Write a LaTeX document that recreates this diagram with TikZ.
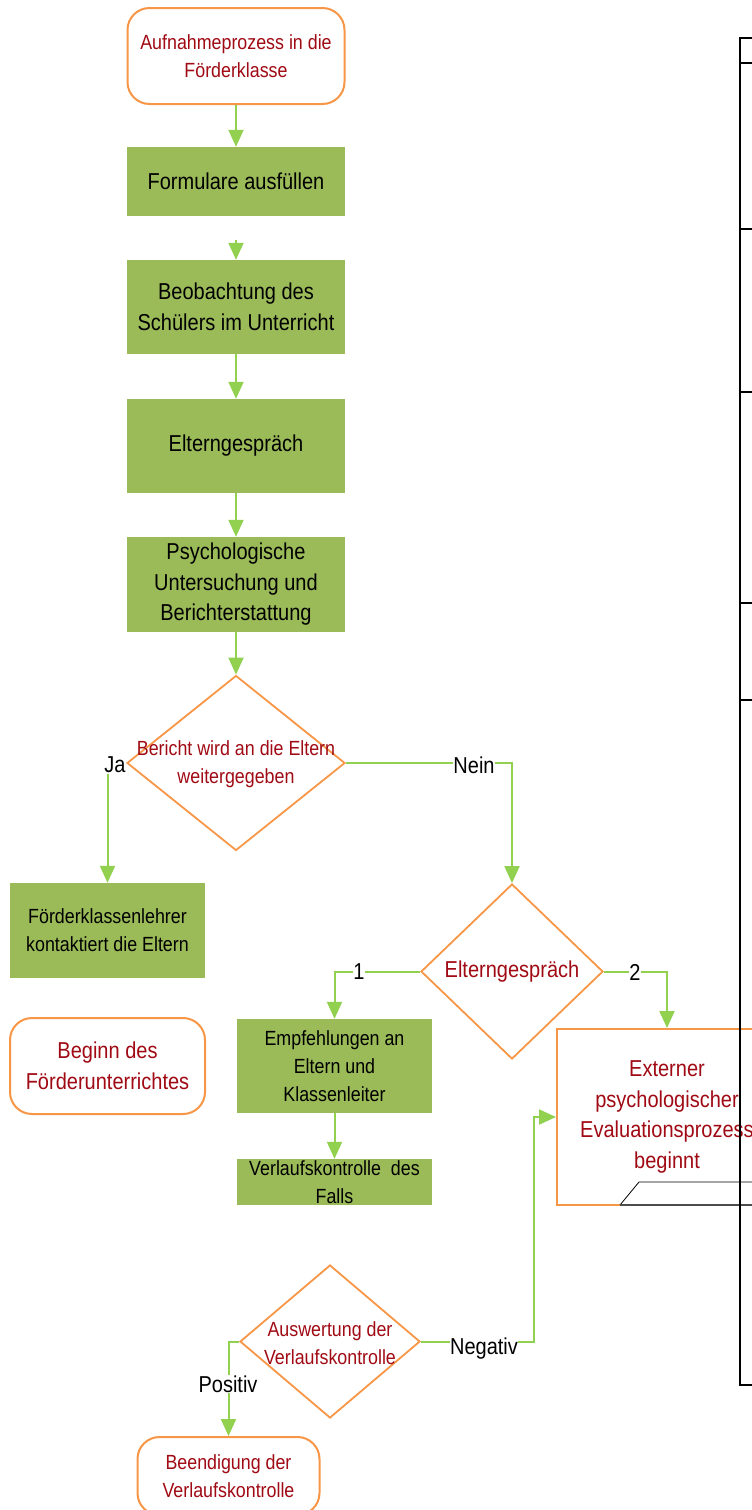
\documentclass[tikz,border=0pt]{standalone}
\usepackage{fontspec}
\usetikzlibrary{shapes.geometric,arrows.meta,calc}
\newfontfamily\dfont[FakeStretch=0.87]{Liberation Sans}
\newcommand\fbig{\dfont\fontsize{23}{30.5}\selectfont}
\newcommand\fsmall{\dfont\fontsize{20.5}{28}\selectfont}
\definecolor{gfill}{RGB}{155,187,89}
\definecolor{gline}{RGB}{146,208,80}
\definecolor{obord}{RGB}{247,150,70}
\definecolor{dred}{RGB}{160,10,20}
\begin{document}
\begin{tikzpicture}[x=1pt,y=-1pt,
  gbox/.style={fill=gfill, inner sep=0pt, align=center, text=black},
  obox/.style={draw=obord, line width=2pt, fill=white, rounded corners=22pt, inner sep=0pt, align=center, text=dred},
  dia/.style={diamond, draw=obord, line width=1.8pt, inner sep=0pt},
  dtext/.style={align=center, text=dred, inner sep=0pt},
  arr/.style={draw=gline, line width=2pt, -{Triangle[length=17pt,width=15pt]}},
  lab/.style={fill=white, inner sep=0.5pt, font=\fbig, text=black}
]
\useasboundingbox (0,0) rectangle (752,1510);

% left column
\node[obox, minimum width=217pt, minimum height=96pt, font=\fsmall] (start) at (236,56) {Aufnahmeprozess in die\\Förderklasse};
\node[gbox, minimum width=218pt, minimum height=69pt, font=\fbig] (form) at (236,181.5) {Formulare ausfüllen};
\node[gbox, minimum width=218pt, minimum height=94pt, font=\fbig] (beob) at (236,307) {Beobachtung des\\Schülers im Unterricht};
\node[gbox, minimum width=218pt, minimum height=94pt, font=\fbig] (eltg) at (236,446) {Elterngespräch};
\node[gbox, minimum width=218pt, minimum height=95pt, font=\fbig] (psy) at (236,584.5) {Psychologische\\Untersuchung und\\Berichterstattung};

\node[dia, minimum width=218pt, minimum height=175pt] (d1) at (236,763) {};
\node[dtext, font=\fsmall] (d1t) at (236,764) {Bericht wird an die Eltern\\weitergegeben};

\node[gbox, minimum width=195pt, minimum height=95pt, font=\fsmall] (fk) at (107.5,930.5) {Förderklassenlehrer\\kontaktiert die Eltern};
\node[obox, minimum width=195pt, minimum height=96pt, font=\fbig] (beginn) at (107.5,1066) {Beginn des\\Förderunterrichtes};

\node[dia, minimum width=182pt, minimum height=175pt] (d2) at (512,971.5) {};
\node[dtext, font=\fbig] (d2t) at (512,971.5) {Elterngespräch};

\node[gbox, minimum width=195pt, minimum height=94pt, font=\fsmall] (emp) at (334.5,1066) {Empfehlungen an\\Eltern und\\Klassenleiter};
\node[gbox, minimum width=195pt, minimum height=46pt] (verl) at (334.5,1182) {};
\node[dtext, text=black, font=\fsmall] (verlt) at (334.5,1182.5) {Verlaufskontrolle\ \ des\\Falls};

\node[obox, sharp corners, minimum width=220pt, minimum height=176pt, font=\fbig] (ext) at (667,1117) {Externer\\psychologischer\\Evaluationsprozess\\beginnt};

\node[dia, minimum width=180pt, minimum height=153pt] (d3) at (330,1341.5) {};
\node[dtext, font=\fsmall] (d3t) at (330,1343) {Auswertung der\\Verlaufskontrolle};

\node[obox, minimum width=182pt, minimum height=78pt, font=\fsmall] (end) at (228.5,1476) {Beendigung der\\Verlaufskontrolle};

% connectors
\draw[arr] (start.south) -- (form.north);
\draw[arr, shorten <=24pt] (form.south) -- (beob.north);
\draw[arr] (beob.south) -- (eltg.north);
\draw[arr] (eltg.south) -- (psy.north);
\draw[arr] (psy.south) -- (d1.north);
\draw[arr] (d1.west) -| (fk.north);
\draw[arr] (d1.east) -| (d2.north);
\draw[arr] (d2.west) -| (emp.north);
\draw[arr] (d2.east) -| (ext.north);
\draw[arr] (emp.south) -- (verl.north);
\draw[arr] (d3.east) -- ++(113,0) coordinate (negc) |- (ext.west);
\draw[arr] (d3.west) -| (end.north);

% labels
\node[lab] (lja) at (115,765) {Ja};
\node[lab] (lnein) at (474,765) {Nein};
\node[lab] (l1) at (359,972) {1};
\node[lab] (l2) at (635,972) {2};
\node[lab] (lneg) at (484,1349) {Negativ};
\node[lab] (lpos) at (228,1384) {Positiv};

% fragments at the right edge
\draw[line width=0.8pt] (620,1205) -- (639,1182) -- (760,1182);
\draw[line width=1.2pt, black!70] (620,1205) -- (760,1205);
\draw[line width=1.3pt] (760,38) -- (740,38) -- (740,1385) -- (760,1385);
\foreach \yy in {63,229,392,603,700} \draw[line width=1.3pt] (740,\yy) -- (760,\yy);
\end{tikzpicture}
\end{document}
